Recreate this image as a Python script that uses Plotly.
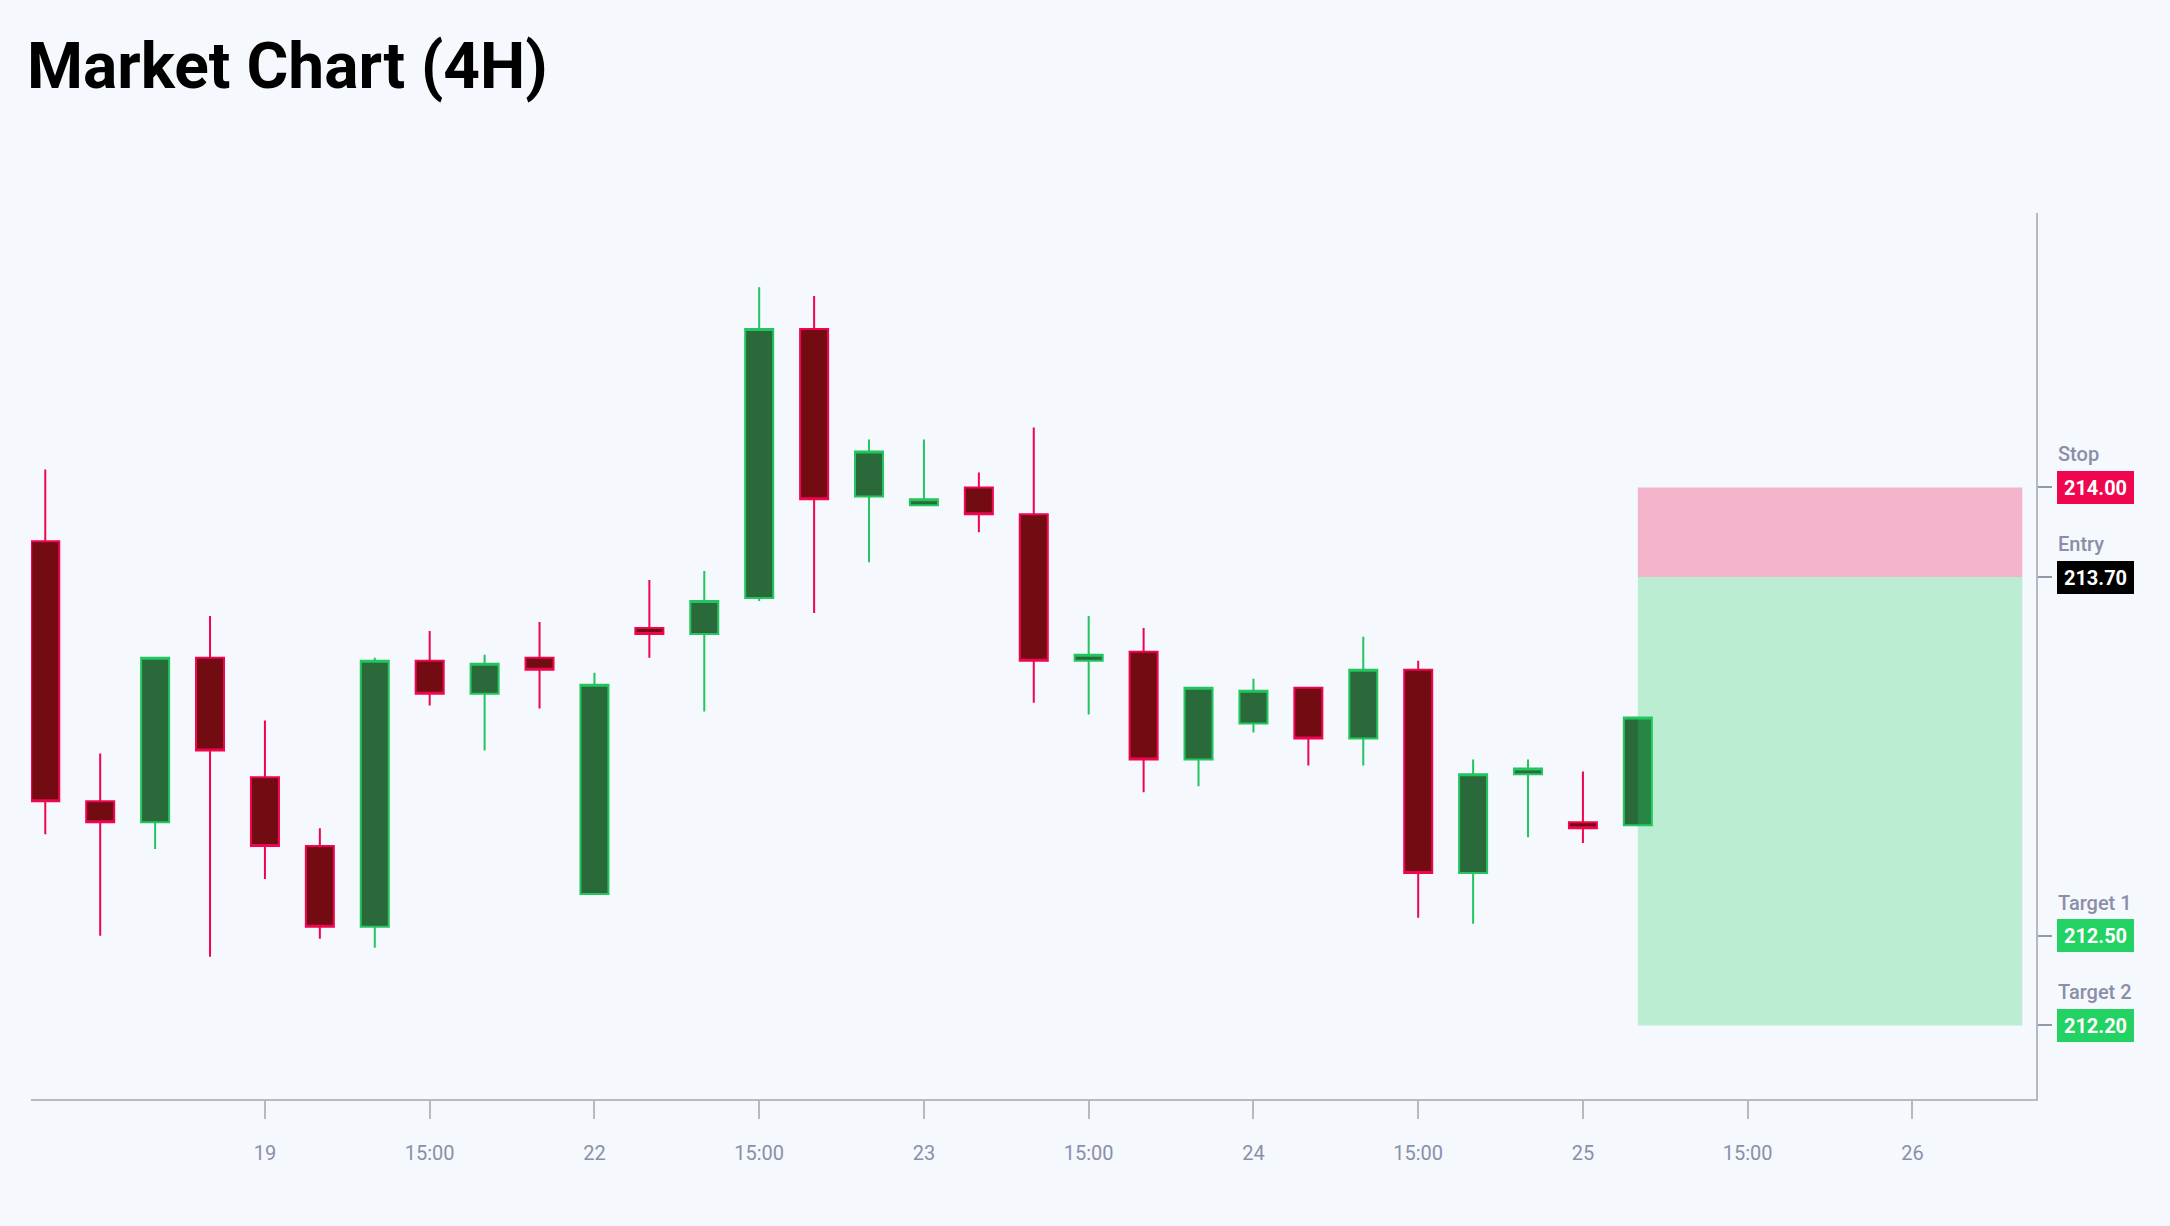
import plotly.graph_objects as go

# ---------------- data ----------------
candle_times = [
    "18 11:00", "18 15:00", "18 19:00", "18 23:00",
    "19 03:00", "19 07:00", "19 11:00", "19 15:00", "19 19:00", "19 23:00",
    "22 03:00", "22 07:00", "22 11:00", "22 15:00", "22 19:00", "22 23:00",
    "23 03:00", "23 07:00", "23 11:00", "23 15:00", "23 19:00", "23 23:00",
    "24 03:00", "24 07:00", "24 11:00", "24 15:00", "24 19:00", "24 23:00",
    "25 03:00", "25 07:00",
]
open_ = [213.82, 212.95, 212.88, 213.43, 213.03, 212.80, 212.53, 213.42, 213.31, 213.43,
         212.64, 213.53, 213.51, 213.63, 214.53, 213.97, 213.94, 214.00, 213.91, 213.42,
         213.45, 213.09, 213.21, 213.33, 213.16, 213.39, 212.71, 213.04, 212.88, 212.87]
high = [214.06, 213.11, 213.43, 213.57, 213.22, 212.86, 213.43, 213.52, 213.44, 213.55,
        213.38, 213.69, 213.72, 214.67, 214.64, 214.16, 214.16, 214.05, 214.20, 213.57,
        213.53, 213.33, 213.36, 213.33, 213.50, 213.42, 213.09, 213.09, 213.05, 213.23]
low = [212.84, 212.50, 212.79, 212.43, 212.69, 212.49, 212.46, 213.27, 213.12, 213.26,
       212.64, 213.43, 213.25, 213.62, 213.58, 213.75, 213.94, 213.85, 213.28, 213.24,
       212.98, 213.00, 213.18, 213.07, 213.07, 212.56, 212.54, 212.83, 212.81, 212.87]
close = [212.95, 212.88, 213.43, 213.12, 212.80, 212.53, 213.42, 213.31, 213.41, 213.39,
         213.34, 213.51, 213.62, 214.53, 213.96, 214.12, 213.96, 213.91, 213.42, 213.44,
         213.09, 213.33, 213.32, 213.16, 213.39, 212.71, 213.04, 213.06, 212.86, 213.23]

tick_positions = [4, 7, 10, 13, 16, 19, 22, 25, 28, 31, 34]
tick_labels = ["19", "15:00", "22", "15:00", "23", "15:00", "24", "15:00", "25", "15:00", "26"]

# trade setup
position_start = 29
position_end = 36
stop_price = 214.00
entry_price = 213.70
target_prices = [212.50, 212.20]
level_names = ["Stop", "Entry", "Target 1", "Target 2"]
level_prices = [stop_price, entry_price] + target_prices

# ---------------- style ----------------
BG = "#f5f8fc"
UP_LINE = "#22c55e"
UP_FILL = "#2a6a3a"
DN_LINE = "#f0054f"
DN_FILL = "#730b13"
TAG_RED = "#f0054f"
TAG_BLACK = "#000000"
TAG_GREEN = "#22d263"
LABEL_GRAY = "#8a8fa8"
AXIS_GRAY = "#b6b9c0"
FONT = "Roboto"

x_idx = list(range(len(candle_times)))

fig = go.Figure()
fig.add_trace(go.Candlestick(
    x=x_idx, open=open_, high=high, low=low, close=close,
    text=candle_times, hoverinfo="text+y",
    increasing=dict(line=dict(color=UP_LINE, width=2), fillcolor=UP_FILL),
    decreasing=dict(line=dict(color=DN_LINE, width=2), fillcolor=DN_FILL),
    whiskerwidth=0,
    showlegend=False,
))

# risk / reward boxes
fig.add_shape(type="rect", xref="x", yref="y",
              x0=position_start, x1=position_end, y0=entry_price, y1=stop_price,
              fillcolor="rgba(240,5,79,0.28)", line=dict(width=0), layer="above")
fig.add_shape(type="rect", xref="x", yref="y",
              x0=position_start, x1=position_end, y0=min(target_prices), y1=entry_price,
              fillcolor="rgba(34,210,99,0.28)", line=dict(width=0), layer="above")

tag_colors = [TAG_RED, TAG_BLACK, TAG_GREEN, TAG_GREEN]
annotations = []
for name, price, col in zip(level_names, level_prices, tag_colors):
    annotations.append(dict(
        xref="paper", yref="y", x=1, y=price, xanchor="left", yanchor="middle",
        xshift=21, text=f"<b>{price:.2f}</b>", showarrow=False,
        bgcolor=col, width=77, height=33, borderpad=0, borderwidth=0,
        align="center", valign="middle",
        font=dict(family=FONT, size=20, color="white"),
    ))
    annotations.append(dict(
        xref="paper", yref="y", x=1, y=price, xanchor="left", yanchor="middle",
        xshift=20, yshift=33, text=name, showarrow=False,
        font=dict(family=FONT, size=20, color=LABEL_GRAY, weight=500),
    ))

fig.update_layout(
    width=2170, height=1226,
    paper_bgcolor=BG, plot_bgcolor=BG,
    margin=dict(l=31, r=134, t=213, b=127),
    font=dict(family=FONT, color=LABEL_GRAY),
    title=dict(text="<b>Market Chart (4H)</b>", xref="container", yref="container",
               x=27 / 2170, xanchor="left", y=1 - 66 / 1226, yanchor="middle",
               font=dict(family=FONT, size=64, color="#000000")),
    xaxis=dict(range=[-0.26, 36.25], showgrid=False, zeroline=False,
               rangeslider=dict(visible=False),
               tickmode="array", tickvals=tick_positions, ticktext=tick_labels,
               ticks="outside", ticklen=18, tickwidth=1.5, tickcolor=AXIS_GRAY,
               ticklabelstandoff=17,
               showline=True, linecolor=AXIS_GRAY, linewidth=2,
               tickfont=dict(family=FONT, size=20, color=LABEL_GRAY)),
    yaxis=dict(range=[211.954, 214.918], side="right", showgrid=False, zeroline=False,
               tickmode="array", tickvals=level_prices, showticklabels=False,
               ticks="outside", ticklen=14, tickwidth=2, tickcolor="#9498ab",
               showline=True, linecolor=AXIS_GRAY, linewidth=2),
    annotations=annotations,
    boxgap=0.49,
    boxgroupgap=0,
)

fig.write_html("out.html", config={"displayModeBar": False},
               post_script="document.body.style.margin='0';")
